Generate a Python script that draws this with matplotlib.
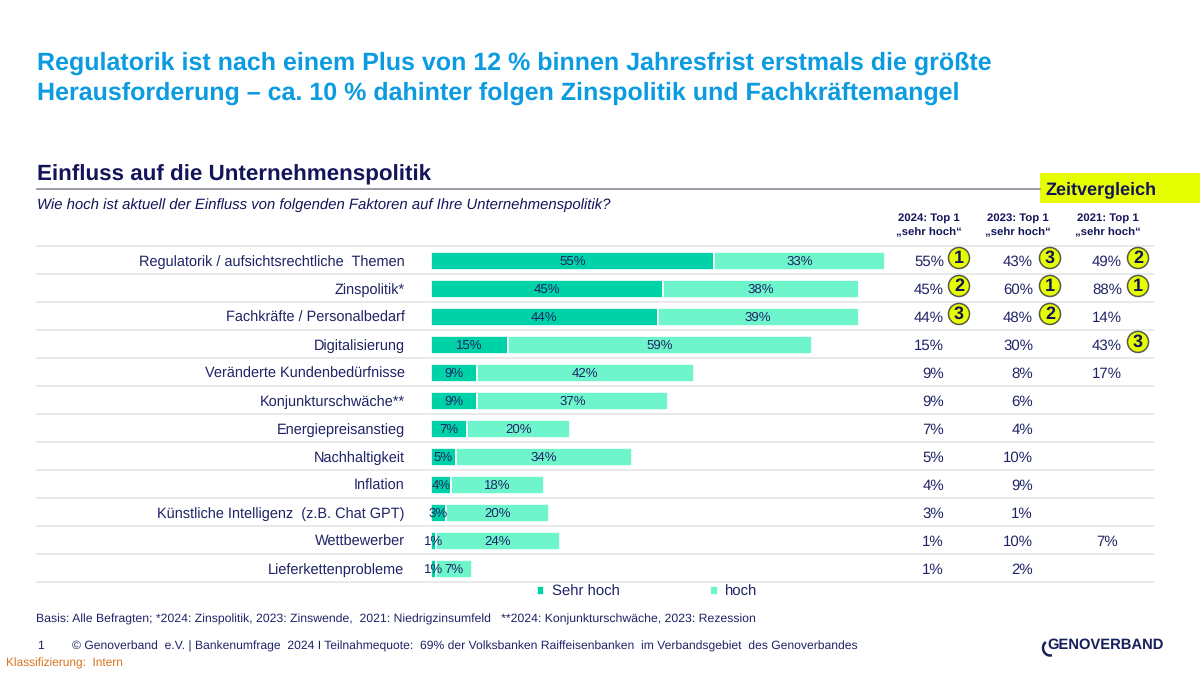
import matplotlib
matplotlib.use("Agg")
import matplotlib.pyplot as plt
from matplotlib.patches import Arc, Circle, Rectangle

plt.rcParams['font.family'] = ['Liberation Sans', 'DejaVu Sans']
plt.rcParams['text.hinting'] = 'no_hinting'

factors = ["Regulatorik / aufsichtsrechtliche  Themen", "Zinspolitik*", "Fachkräfte / Personalbedarf",
           "Digitalisierung", "Veränderte Kundenbedürfnisse", "Konjunkturschwäche**",
           "Energiepreisanstieg", "Nachhaltigkeit", "Inflation",
           "Künstliche Intelligenz  (z.B. Chat GPT)", "Wettbewerber", "Lieferkettenprobleme"]
sehr_hoch = [55, 45, 44, 15, 9, 9, 7, 5, 4, 3, 1, 1]
hoch = [33, 38, 39, 59, 42, 37, 20, 34, 18, 20, 24, 7]

top_2024 = [55, 45, 44, 15, 9, 9, 7, 5, 4, 3, 1, 1]
top_2023 = [43, 60, 48, 30, 8, 6, 4, 10, 9, 1, 10, 2]
top_2021 = [49, 88, 14, 43, 17, None, None, None, None, None, 7, None]
rank_2024 = {0: 1, 1: 2, 2: 3}
rank_2023 = {0: 3, 1: 1, 2: 2}
rank_2021 = {0: 2, 1: 1, 3: 3}
year_heads = ["2024: Top 1", "2023: Top 1", "2021: Top 1"]

BLUE = "#0a9be0"
NAVY = "#14145a"
DARK = "#1f2466"
C_SEHR = "#00d2a8"
C_HOCH = "#6ff5cb"
YELLOW = "#e6ff00"

fig = plt.figure(figsize=(12, 6.75), dpi=100, facecolor="white")

# pixel overlay, y runs downwards like in the reference
px = fig.add_axes([0, 0, 1, 1], zorder=1)
px.set_xlim(0, 1200)
px.set_ylim(675, 0)
px.axis("off")
px.patch.set_alpha(0)

# bars
ax = fig.add_axes([430.5 / 1200, (675 - 583) / 675, 516 / 1200, 336 / 675], zorder=2)
ax.patch.set_alpha(0)
ax.set_xlim(0, 100)
ax.set_ylim(11.5, -0.5)
ax.axis("off")
rows = list(range(len(factors)))
bars1 = ax.barh(rows, sehr_hoch, height=0.62, color=C_SEHR, edgecolor="white", linewidth=1.2, label="Sehr hoch")
bars2 = ax.barh(rows, hoch, left=sehr_hoch, height=0.62, color=C_HOCH, edgecolor="white", linewidth=1.2, label="hoch")
for i in rows:
    ax.text(sehr_hoch[i] / 2, i + 0.02, f"{sehr_hoch[i]}%", ha="center", va="center", fontsize=9.5, color=DARK)
    ax.text(sehr_hoch[i] + hoch[i] / 2, i + 0.02, f"{hoch[i]}%", ha="center", va="center", fontsize=9.5, color=DARK)

# headings
px.text(37, 63.5, "Regulatorik ist nach einem Plus von 12 % binnen Jahresfrist erstmals die größte",
        fontsize=18.03, fontweight="bold", color=BLUE, va="center")
px.text(37, 93.5, "Herausforderung – ca. 10 % dahinter folgen Zinspolitik und Fachkräftemangel",
        fontsize=18.03, fontweight="bold", color=BLUE, va="center")
px.text(37, 175, "Einfluss auf die Unternehmenspolitik", fontsize=16.15, fontweight="bold", color=NAVY, va="center")
px.plot([37, 1040], [188.5, 188.5], color="#8a8d99", lw=1.2)
px.text(37, 205, "Wie hoch ist aktuell der Einfluss von folgenden Faktoren auf Ihre Unternehmenspolitik?",
        fontsize=10.75, style="italic", color=NAVY, va="center")

px.add_patch(Rectangle((1040, 173), 160, 30, color=YELLOW, lw=0))
px.text(1045, 190, "Zeitvergleich", fontsize=13, fontweight="bold", color=NAVY, va="center")

# table part
col_x = [944, 1033, 1122]
head_x = [929, 1018, 1108]
for hx, head in zip(head_x, year_heads):
    px.text(hx, 218, head, fontsize=8.2, fontweight="bold", color=NAVY, ha="center", va="center")
    px.text(hx, 232, "„sehr hoch“", fontsize=8.2, fontweight="bold", color=NAVY, ha="center", va="center")

for k in range(13):
    y = 246 + k * 27.97
    px.plot([37, 1153], [y, y], color="#e3e5e8", lw=1.2, zorder=1)

for i, name in enumerate(factors):
    y = 262 + i * 27.97
    px.text(404.5, y, name, fontsize=10.45, color=DARK, ha="right", va="center")
    for cx, vals in zip(col_x, [top_2024, top_2023, top_2021]):
        if vals[i] is not None:
            if cx == col_x[2] and i in (2, 4, 10):
                px.text(1107, y, f"{vals[i]}%", fontsize=10.8, color=DARK, ha="center", va="center")
            else:
                px.text(cx, y, f"{vals[i]}%", fontsize=10.8, color=DARK, ha="right", va="center")

for badge_x, ranks in zip([959, 1050, 1138], [rank_2024, rank_2023, rank_2021]):
    for i, r in ranks.items():
        y = 258 + i * 27.97
        px.add_patch(Circle((badge_x, y), 10.5, facecolor=YELLOW, edgecolor="#55584a", lw=1.1, zorder=3))
        px.text(badge_x, y + 0.5, str(r), fontsize=13, fontweight="bold", color=NAVY, ha="center", va="center", zorder=4)

# legend
ax.legend([bars1, bars2], ["Sehr hoch", "hoch"], loc="center", bbox_to_anchor=(0.4195, -0.027), ncol=2,
          frameon=False, fontsize=10.7, labelcolor=DARK, handlelength=0.5, handleheight=0.5,
          handletextpad=0.5, columnspacing=6.1)

# footer
px.text(36, 619, "Basis: Alle Befragten; *2024: Zinspolitik, 2023: Zinswende,  2021: Niedrigzinsumfeld   **2024: Konjunkturschwäche, 2023: Rezession",
        fontsize=8.85, color=DARK, va="center")
px.text(37, 646, "1", fontsize=8.7, color=DARK, va="center")
px.text(72, 646, "© Genoverband  e.V. | Bankenumfrage  2024 I Teilnahmequote:  69% der Volksbanken Raiffeisenbanken  im Verbandsgebiet  des Genoverbandes",
        fontsize=8.73, color=DARK, va="center")
px.text(6, 663, "Klassifizierung:  Intern", fontsize=8.6, color="#d9731a", va="center")

# logo
px.text(1047.5, 645, "GENOVERBAND", fontsize=10.6, fontweight="bold", color="#16205c", va="center")
px.add_patch(Arc((1050, 648), 14, 15, theta1=75, theta2=235, color="#16205c", lw=1.8))

fig.savefig("out.png", dpi=100)
